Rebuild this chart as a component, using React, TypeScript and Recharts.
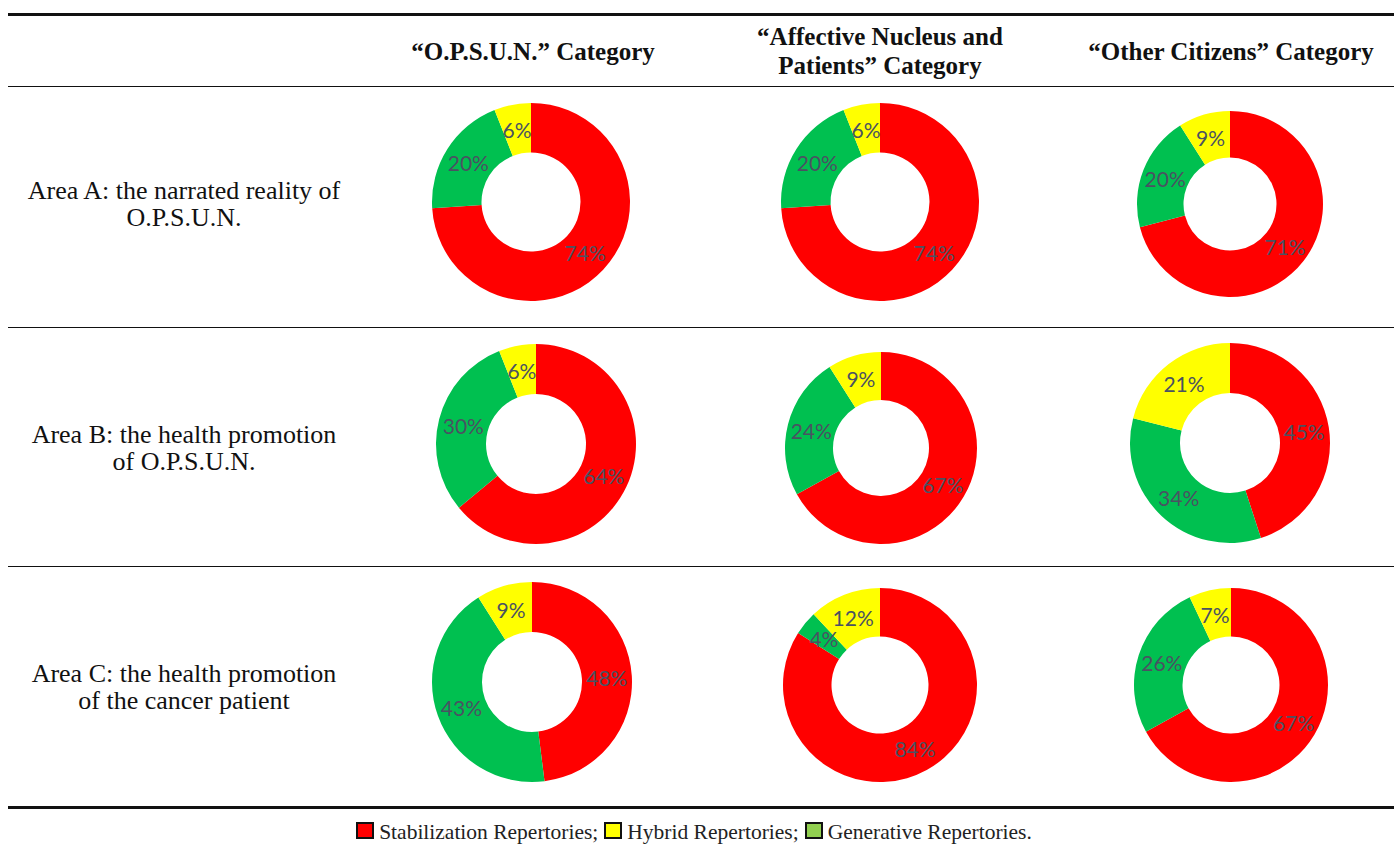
import React from 'react';
import { PieChart, Pie, Cell } from 'recharts';

// series order as drawn clockwise from 12 o'clock
const seriesNames = ['Stabilization Repertories', 'Generative Repertories', 'Hybrid Repertories'];
const sliceColors = ['#FF0000', '#00C050', '#FFFF00'];

const columnTitles = [
  ['“O.P.S.U.N.” Category'],
  ['“Affective Nucleus and', 'Patients” Category'],
  ['“Other Citizens” Category'],
];

const rowTitles = [
  ['Area A: the narrated reality of', 'O.P.S.U.N.'],
  ['Area B: the health promotion', 'of O.P.S.U.N.'],
  ['Area C: the health promotion', 'of the cancer patient'],
];

// [stabilization, generative, hybrid] for each category column
const areaA = [
  [74, 20, 6],
  [74, 20, 6],
  [71, 20, 9],
];
const areaB = [
  [64, 30, 6],
  [67, 24, 9],
  [45, 34, 21],
];
const areaC = [
  [48, 43, 9],
  [84, 4, 12],
  [67, 26, 7],
];

const legendItems = [
  { label: 'Stabilization Repertories;', color: '#FF0000' },
  { label: 'Hybrid Repertories;', color: '#FFFF00' },
  { label: 'Generative Repertories.', color: '#92D050' },
];

// donut placement: [centerX, centerY, outerRadius]
const LAYOUT = [
  [[531, 202, 99], [880, 202, 99], [1230, 204, 93]],
  [[536, 444, 100], [881, 448, 96], [1230, 443, 100]],
  [[532, 682, 100], [880, 685, 97], [1231, 685, 97]],
];
const COL_X = [533, 880, 1231];
const ROW_Y = [204, 448, 687];

const RAD = Math.PI / 180;

function renderLabel(props: any) {
  const { cx, cy, midAngle, innerRadius, outerRadius, value } = props;
  const r = (innerRadius + outerRadius) / 2;
  const x = cx + r * Math.cos(-midAngle * RAD);
  const y = cy + r * Math.sin(-midAngle * RAD);
  return (
    <text
      x={x}
      y={y}
      fill="#4A5262"
      textAnchor="middle"
      dominantBaseline="central"
      style={{ fontFamily: 'Lato, "Open Sans", sans-serif', fontSize: 21 }}
    >
      {`${value}%`}
    </text>
  );
}

function Donut({ values, cx, cy, r }: { values: number[]; cx: number; cy: number; r: number }) {
  const size = 2 * r + 20;
  const data = values.map((v, i) => ({ name: seriesNames[i], value: v }));
  return (
    <div style={{ position: 'absolute', left: cx - size / 2, top: cy - size / 2 }}>
      <PieChart width={size} height={size} margin={{ top: 0, right: 0, bottom: 0, left: 0 }}>
        <Pie
          data={data}
          dataKey="value"
          cx="50%"
          cy="50%"
          outerRadius={r}
          innerRadius={r * 0.5}
          startAngle={90}
          endAngle={-270}
          stroke="none"
          labelLine={false}
          label={renderLabel}
          isAnimationActive={false}
        >
          {data.map((d, i) => (
            <Cell key={d.name} fill={sliceColors[i]} />
          ))}
        </Pie>
      </PieChart>
    </div>
  );
}

const hLine = (top: number, thickness: number) => (
  <div
    style={{
      position: 'absolute',
      left: 8,
      width: 1386,
      top,
      height: thickness,
      background: '#111',
    }}
  />
);

export default function App() {
  const areas = [areaA, areaB, areaC];
  return (
    <div
      style={{
        position: 'absolute',
        left: 0,
        top: 0,
        width: 1394,
        height: 844,
        background: '#fff',
        fontFamily: '"Liberation Serif", "DejaVu Serif", serif',
        color: '#111',
        overflow: 'hidden',
      }}
    >
      {hLine(13, 2.5)}
      {hLine(86, 1.2)}
      {hLine(327, 1.2)}
      {hLine(566, 1.2)}
      {hLine(806, 2.5)}

      {columnTitles.map((lines, c) => (
        <div
          key={c}
          style={{
            position: 'absolute',
            left: COL_X[c] - 180,
            width: 360,
            top: 51 - (lines.length * 29) / 2,
            textAlign: 'center',
            fontWeight: 'bold',
            fontSize: 25,
            lineHeight: '29px',
          }}
        >
          {lines.map((l) => (
            <div key={l}>{l}</div>
          ))}
        </div>
      ))}

      {rowTitles.map((lines, r) => (
        <div
          key={r}
          style={{
            position: 'absolute',
            left: 4,
            width: 360,
            top: ROW_Y[r] - 27,
            textAlign: 'center',
            fontSize: 26,
            lineHeight: '27px',
          }}
        >
          {lines.map((l) => (
            <div key={l}>{l}</div>
          ))}
        </div>
      ))}

      {areas.map((area, r) =>
        area.map((values, c) => {
          const [cx, cy, rad] = LAYOUT[r][c];
          return <Donut key={`${r}-${c}`} values={values} cx={cx} cy={cy} r={rad} />;
        })
      )}

      <div
        style={{
          position: 'absolute',
          left: 0,
          width: 1394,
          top: 820,
          display: 'flex',
          justifyContent: 'center',
          alignItems: 'center',
          fontSize: 21.5,
          lineHeight: '24px',
          color: '#222',
        }}
      >
        {legendItems.map((it) => (
          <span key={it.label} style={{ display: 'inline-flex', alignItems: 'center', marginRight: 6 }}>
            <span
              style={{
                display: 'inline-block',
                width: 14,
                height: 13,
                background: it.color,
                border: '2px solid #111',
                marginRight: 5,
                marginTop: -4,
              }}
            />
            {it.label}
          </span>
        ))}
      </div>
    </div>
  );
}
